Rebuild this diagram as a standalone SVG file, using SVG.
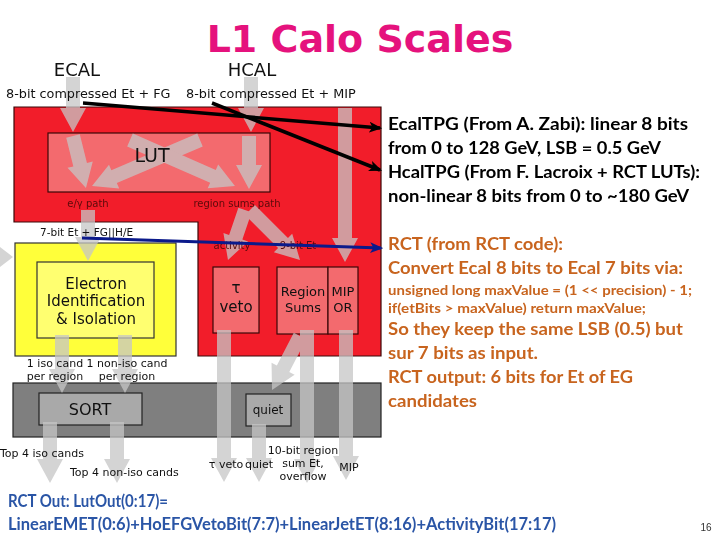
<svg xmlns="http://www.w3.org/2000/svg" width="720" height="540" viewBox="0 0 720 540">
<defs>
<style>
.dj{font-family:"DejaVu Sans","Liberation Sans",sans-serif;fill:#111}
.sm{font-family:"DejaVu Sans","Liberation Sans",sans-serif;fill:#5a0a0a;font-size:10px}
.box{stroke:#3a0808;stroke-width:1.2}
.rt{font-family:Lato,"Liberation Sans",sans-serif;font-weight:bold;font-size:16.5px}
.rs{font-family:Lato,"Liberation Sans",sans-serif;font-weight:bold;font-size:12.5px}
.blk{fill:#000}
.org{fill:#c8641e}
.blu{fill:#2a55a6}
</style>
<marker id="ahk" viewBox="0 0 12 10" refX="10" refY="5" markerWidth="13" markerHeight="11" markerUnits="userSpaceOnUse" orient="auto"><path d="M0,0 L12,5 L0,10 L3,5 z" fill="#000"/></marker>
<marker id="ahb" viewBox="0 0 12 10" refX="10" refY="5" markerWidth="13" markerHeight="11" markerUnits="userSpaceOnUse" orient="auto"><path d="M0,0 L12,5 L0,10 L3,5 z" fill="#0b1a8b"/></marker>
</defs>
<rect width="720" height="540" fill="#fff"/>

<text x="360" y="52" text-anchor="middle" font-family="'DejaVu Sans','Liberation Sans',sans-serif" font-weight="bold" font-size="38" fill="#e5127d">L1 Calo Scales</text>

<g id="red-area">
<polygon points="14,107 381,107 381,356 198,356 198,222 14,222" fill="#f21d2a" class="box" stroke-width="1.5"/>
</g>
<g id="lut"><rect x="48" y="133" width="222" height="59" fill="#f36a6e" class="box"/></g>
<g id="tau-veto"><rect x="213" y="267" width="46" height="66" fill="#f36a6e" class="box"/></g>
<g id="region-sums"><rect x="277" y="267" width="51" height="67" fill="#f36a6e" class="box"/></g>
<g id="mip-or"><rect x="328" y="267" width="30" height="67" fill="#f36a6e" class="box"/></g>
<g id="electron-outer"><rect x="15" y="243" width="161" height="113" fill="#ffff3a" stroke="#333" stroke-width="1.2"/></g>
<g id="electron-id"><rect x="37" y="262" width="117" height="76" fill="#ffff70" stroke="#333" stroke-width="1.2"/></g>
<g id="sort-band"><rect x="13" y="383" width="368" height="54" fill="#7f7f7f" stroke="#222" stroke-width="1.2"/></g>
<g id="sort"><rect x="39" y="393" width="103" height="32" fill="#a9a9a9" stroke="#222" stroke-width="1.2"/></g>
<g id="quiet"><rect x="246" y="394" width="45" height="32" fill="#a9a9a9" stroke="#222" stroke-width="1.2"/></g>

<g id="flow-arrows" fill="#c6c6c6" opacity="0.75">
<polygon points="0,247 13,257 0,267"/>
<polygon points="66,77 80,77 80,108 86,108 73,132 60,108 66,108"/>
<polygon points="244,77 258,77 258,108 264,108 251,132 238,108 244,108"/>
<polygon points="242,136 256,136 256,165 262,165 249,189 236,165 242,165"/>
<polygon transform="translate(73,136) rotate(-14)" points="-7,0 7,0 7,29.6 13,29.6 0,53.6 -13,29.6 -7,29.6"/>
<polygon transform="translate(200,140) rotate(66.9)" points="-7,0 7,0 7,93.4 13,93.4 0,117.4 -13,93.4 -7,93.4"/>
<polygon transform="translate(130,140) rotate(-66.3)" points="-7,0 7,0 7,90.6 13,90.6 0,114.6 -13,90.6 -7,90.6"/>
<polygon points="81,210 95,210 95,237 101,237 88,261 75,237 81,237"/>
<polygon points="338,108 352,108 352,238 358,238 345,262 332,238 338,238"/>
<polygon transform="translate(245,210) rotate(18.8)" points="-7,0 7,0 7,28.8 13,28.8 0,52.8 -13,28.8 -7,28.8"/>
<polygon transform="translate(250,210) rotate(-45)" points="-7,0 7,0 7,46.7 13,46.7 0,70.7 -13,46.7 -7,46.7"/>
<polygon points="55,335 69,335 69,369 75,369 62,393 49,369 55,369"/>
<polygon points="118,335 132,335 132,369 138,369 125,393 112,369 118,369"/>
<polygon points="43,422 57,422 57,459 63,459 50,483 37,459 43,459"/>
<polygon points="110,422 124,422 124,459 130,459 117,483 104,459 110,459"/>
<polygon points="217,330 231,330 231,458 237,458 224,482 211,458 217,458"/>
<polygon transform="translate(300,336) rotate(27.4)" points="-7,0 7,0 7,36.8 13,36.8 0,60.8 -13,36.8 -7,36.8"/>
<polygon points="252,424 266,424 266,458 272,458 259,482 246,458 252,458"/>
<polygon points="300,330 314,330 314,459 320,459 307,483 294,459 300,459"/>
<polygon points="339,330 353,330 353,456 359,456 346,480 333,456 339,456"/>
</g>

<g id="labels">
<text class="dj" x="77" y="76" text-anchor="middle" font-size="18">ECAL</text>
<text class="dj" x="252" y="76" text-anchor="middle" font-size="18">HCAL</text>
<text class="dj" x="6" y="98" font-size="12.8">8-bit compressed Et + FG</text>
<text class="dj" x="186" y="98" font-size="12.8">8-bit compressed Et + MIP</text>
<text class="dj" x="152" y="162" text-anchor="middle" font-size="19">LUT</text>
<text class="sm" x="88" y="207" text-anchor="middle">e/γ path</text>
<text class="sm" x="237" y="207" text-anchor="middle">region sums path</text>
<text class="dj" x="40" y="236" font-size="10.5">7-bit Et + FG||H/E</text>
<text class="sm" x="232" y="249" text-anchor="middle">activity</text>
<text class="sm" x="298" y="249" text-anchor="middle">9-bit Et</text>
<text class="dj" x="96" y="289" text-anchor="middle" font-size="15">Electron</text>
<text class="dj" x="96" y="306" text-anchor="middle" font-size="15">Identification</text>
<text class="dj" x="96" y="324" text-anchor="middle" font-size="15">&amp; Isolation</text>
<text class="dj" x="236" y="293" text-anchor="middle" font-size="15">τ</text>
<text class="dj" x="236" y="312" text-anchor="middle" font-size="15">veto</text>
<text class="dj" x="303" y="296" text-anchor="middle" font-size="13">Region</text>
<text class="dj" x="303" y="312" text-anchor="middle" font-size="13">Sums</text>
<text class="dj" x="343" y="296" text-anchor="middle" font-size="13">MIP</text>
<text class="dj" x="343" y="312" text-anchor="middle" font-size="13">OR</text>
<text class="dj" x="55" y="367" text-anchor="middle" font-size="11">1 iso cand</text>
<text class="dj" x="55" y="380" text-anchor="middle" font-size="11">per region</text>
<text class="dj" x="127" y="367" text-anchor="middle" font-size="11">1 non-iso cand</text>
<text class="dj" x="127" y="380" text-anchor="middle" font-size="11">per region</text>
<text class="dj" x="90" y="415" text-anchor="middle" font-size="16">SORT</text>
<text class="dj" x="268" y="414" text-anchor="middle" font-size="12">quiet</text>
<text class="dj" x="0" y="457" font-size="11">Top 4 iso cands</text>
<text class="dj" x="70" y="476" font-size="11">Top 4 non-iso cands</text>
<text class="dj" x="226" y="468" text-anchor="middle" font-size="11">τ veto</text>
<text class="dj" x="259" y="468" text-anchor="middle" font-size="11">quiet</text>
<text class="dj" x="303" y="454" text-anchor="middle" font-size="11">10-bit region</text>
<text class="dj" x="303" y="467" text-anchor="middle" font-size="11">sum Et,</text>
<text class="dj" x="303" y="480" text-anchor="middle" font-size="11">overflow</text>
<text class="dj" x="349" y="471" text-anchor="middle" font-size="11">MIP</text>
</g>

<g id="connectors" fill="none">
<line x1="83" y1="103" x2="380" y2="128" stroke="#000" stroke-width="3.5" marker-end="url(#ahk)"/>
<line x1="212" y1="103" x2="380" y2="170" stroke="#000" stroke-width="3.5" marker-end="url(#ahk)"/>
<line x1="82" y1="238" x2="381" y2="248" stroke="#0b1a8b" stroke-width="3" marker-end="url(#ahb)"/>
</g>

<g id="notes">
<text class="rt blk" x="388" y="130" textLength="300" lengthAdjust="spacingAndGlyphs">EcalTPG (From A. Zabi):  linear 8 bits</text>
<text class="rt blk" x="388" y="154" textLength="273" lengthAdjust="spacingAndGlyphs">from 0 to 128 GeV, LSB = 0.5 GeV</text>
<text class="rt blk" x="388" y="178" textLength="312" lengthAdjust="spacingAndGlyphs">HcalTPG (From F. Lacroix + RCT LUTs):</text>
<text class="rt blk" x="388" y="202" textLength="301" lengthAdjust="spacingAndGlyphs">non-linear 8 bits from 0 to ~180 GeV</text>
<text class="rt org" x="388" y="250" textLength="175" lengthAdjust="spacingAndGlyphs">RCT (from RCT code):</text>
<text class="rt org" x="388" y="274" textLength="295" lengthAdjust="spacingAndGlyphs">Convert Ecal 8 bits to Ecal 7 bits via:</text>
<text class="rs org" x="388" y="295" textLength="304" lengthAdjust="spacingAndGlyphs">unsigned long maxValue = (1 &lt;&lt; precision) - 1;</text>
<text class="rs org" x="388" y="313" textLength="258" lengthAdjust="spacingAndGlyphs">if(etBits &gt; maxValue) return maxValue;</text>
<text class="rt org" x="388" y="335" textLength="295" lengthAdjust="spacingAndGlyphs">So they keep the same LSB (0.5) but</text>
<text class="rt org" x="388" y="359" textLength="150" lengthAdjust="spacingAndGlyphs">sur 7 bits as input.</text>
<text class="rt org" x="388" y="383" textLength="245" lengthAdjust="spacingAndGlyphs">RCT output: 6 bits for Et of EG</text>
<text class="rt org" x="388" y="407" textLength="89" lengthAdjust="spacingAndGlyphs">candidates</text>
<text class="rt blu" x="8" y="507" textLength="160" lengthAdjust="spacingAndGlyphs">RCT Out: LutOut(0:17)=</text>
<text class="rt blu" x="8" y="530" textLength="548" lengthAdjust="spacingAndGlyphs">LinearEMET(0:6)+HoEFGVetoBit(7:7)+LinearJetET(8:16)+ActivityBit(17:17)</text>
<text x="706" y="531" text-anchor="middle" font-family="'Liberation Sans',sans-serif" font-size="10" fill="#333">16</text>
</g>
</svg>
